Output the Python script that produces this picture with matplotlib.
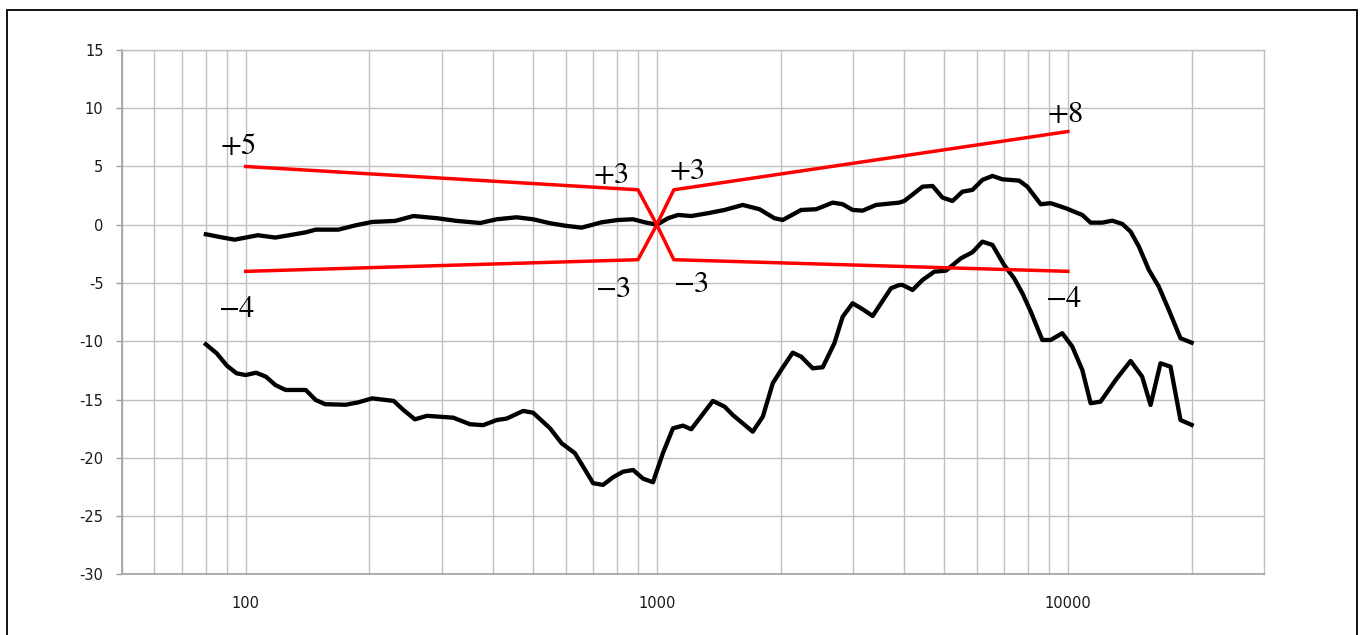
import numpy as np
import matplotlib.pyplot as plt
import matplotlib.ticker as mt
from matplotlib.patches import Rectangle

plt.rcParams['font.family'] = ['DejaVu Sans']
plt.rcParams['axes.unicode_minus'] = False
plt.rcParams['mathtext.fontset'] = 'stix'

# upper measured curve (normalised to 0 dB at 1 kHz)
freq_a = [80, 81, 87, 94, 100, 107, 118, 130, 140, 148, 168, 185, 203, 231, 256,
          292, 326, 372, 408, 456, 500, 550, 598, 656, 734, 805, 876, 935, 1000,
          1065, 1126, 1213, 1331, 1462, 1619, 1778, 1933, 2025, 2245, 2441, 2679,
          2833, 2995, 3168, 3415, 3890, 4000, 4431, 4685, 4955, 5240, 5540, 5860,
          6196, 6553, 6930, 7607, 7969, 8589, 9082, 9878, 10840, 11360, 12120,
          12820, 13560, 14210, 14890, 15740, 16640, 17600, 18790, 20000]
level_a = [-0.82, -0.85, -1.07, -1.28, -1.1, -0.9, -1.1, -0.85, -0.65, -0.42, -0.42,
           -0.05, 0.24, 0.33, 0.75, 0.56, 0.33, 0.15, 0.47, 0.64, 0.47, 0.13, -0.08,
           -0.25, 0.21, 0.41, 0.47, 0.21, 0.0, 0.56, 0.84, 0.75, 0.99, 1.27, 1.7,
           1.33, 0.56, 0.41, 1.27, 1.33, 1.9, 1.76, 1.27, 1.21, 1.7, 1.9, 2.04, 3.27,
           3.33, 2.33, 2.04, 2.84, 2.99, 3.85, 4.19, 3.9, 3.79, 3.27, 1.76, 1.85,
           1.42, 0.84, 0.18, 0.18, 0.35, 0.07, -0.59, -1.88, -3.88, -5.31, -7.31,
           -9.74, -10.12]

# lower measured curve
freq_b = [80, 85, 90, 95, 100, 106, 112, 118, 125, 140, 148, 156, 175, 188, 203,
          229, 242, 258, 276, 320, 351, 378, 408, 431, 473, 500, 550, 587, 632, 662,
          700, 740, 783, 828, 876, 926, 979, 1035, 1095, 1158, 1213, 1295, 1369,
          1462, 1531, 1712, 1811, 1915, 2007, 2141, 2245, 2395, 2533, 2704, 2833,
          2995, 3168, 3350, 3713, 3890, 3962, 4190, 4431, 4730, 5050, 5493, 5860,
          6196, 6553, 6995, 7398, 7751, 8124, 8666, 9082, 9691, 10250, 10840,
          11360, 12010, 13070, 14210, 15160, 15890, 16800, 17770, 18790, 20000]
level_b = [-10.26, -11.03, -12.09, -12.75, -12.9, -12.7, -13.04, -13.75, -14.18,
           -14.18, -15.04, -15.4, -15.45, -15.24, -14.9, -15.12, -15.9, -16.7,
           -16.4, -16.56, -17.12, -17.2, -16.76, -16.64, -15.98, -16.13, -17.47,
           -18.76, -19.6, -20.76, -22.18, -22.33, -21.67, -21.19, -21.05, -21.79,
           -22.1, -19.6, -17.47, -17.24, -17.55, -16.24, -15.12, -15.61, -16.33,
           -17.76, -16.47, -13.6, -12.46, -10.98, -11.32, -12.32, -12.23, -10.17,
           -7.89, -6.74, -7.25, -7.83, -5.45, -5.17, -5.17, -5.6, -4.74, -4.03,
           -3.94, -2.88, -2.36, -1.45, -1.73, -3.45, -4.59, -5.88, -7.46, -9.89,
           -9.89, -9.31, -10.46, -12.46, -15.32, -15.18, -13.32, -11.69, -13.04,
           -15.47, -11.89, -12.18, -16.76, -17.18]

# tolerance window
tol_freq = [100, 900, 1000, 1100, 10000]
tol_upper = [5, 3, 0, -3, -4]
tol_lower = [-4, -3, 0, 3, 8]

# tolerance labels: text, freq, level (baseline)
notes = [('+5', 96, 6.1), ('-4', 95, -7.9), ('+3', 773, 3.6), ('+3', 1185, 3.9),
         ('-3', 782, -6.2), ('-3', 1212, -5.75), ('+8', 9840, 8.85),
         ('-4', 9783, -7.1)]

major_x = [100, 1000, 10000]
minor_x = [50, 60, 70, 80, 90, 200, 300, 400, 500, 600, 700, 800, 900,
           2000, 3000, 4000, 5000, 6000, 7000, 8000, 9000, 20000]

fig = plt.figure(figsize=(13.64, 6.35), dpi=100)
ax = fig.add_axes([0.0894, 0.0956, 0.8373, 0.8257])

ax.plot(freq_a, level_a, color='black', lw=3.1, solid_joinstyle='round', zorder=3)
ax.plot(freq_b, level_b, color='black', lw=3.1, solid_joinstyle='round', zorder=3)
ax.plot(tol_freq, tol_upper, color='#ff0000', lw=2.5, zorder=4)
ax.plot(tol_freq, tol_lower, color='#ff0000', lw=2.5, zorder=4)

for txt, f, v in notes:
    ax.text(f, v, '$' + txt + '$', fontsize=22, ha='center', va='baseline',
            color='black', zorder=5)

ax.set_xscale('log')
ax.set_xlim(50, 30000)
ax.set_ylim(-30, 15)
ax.set_xticks(major_x)
ax.set_xticklabels([str(v) for v in major_x])
ax.xaxis.set_minor_locator(mt.FixedLocator(minor_x))
ax.xaxis.set_minor_formatter(mt.NullFormatter())
ax.set_yticks(np.arange(-30, 16, 5))

ax.grid(which='both', color='#c0c0c0', lw=1.0)
ax.set_axisbelow(True)
for s in ['top', 'right']:
    ax.spines[s].set_color('#c0c0c0')
    ax.spines[s].set_linewidth(1.0)
for s in ['left', 'bottom']:
    ax.spines[s].set_color('#a0a0a0')
    ax.spines[s].set_linewidth(1.2)

ax.tick_params(axis='y', which='major', direction='out', length=4.3, width=1.0,
               color='#a0a0a0', pad=9, labelsize=10.5, labelcolor='#1a1a1a')
ax.tick_params(axis='x', which='both', length=0, pad=15.5, labelsize=10.5,
               labelcolor='#1a1a1a')

fig.patches.append(Rectangle((0.0051, -0.05), 0.9898, 1.0343, transform=fig.transFigure,
                             fill=False, edgecolor='black', lw=1.3))

fig.savefig('out.png', dpi=100)
